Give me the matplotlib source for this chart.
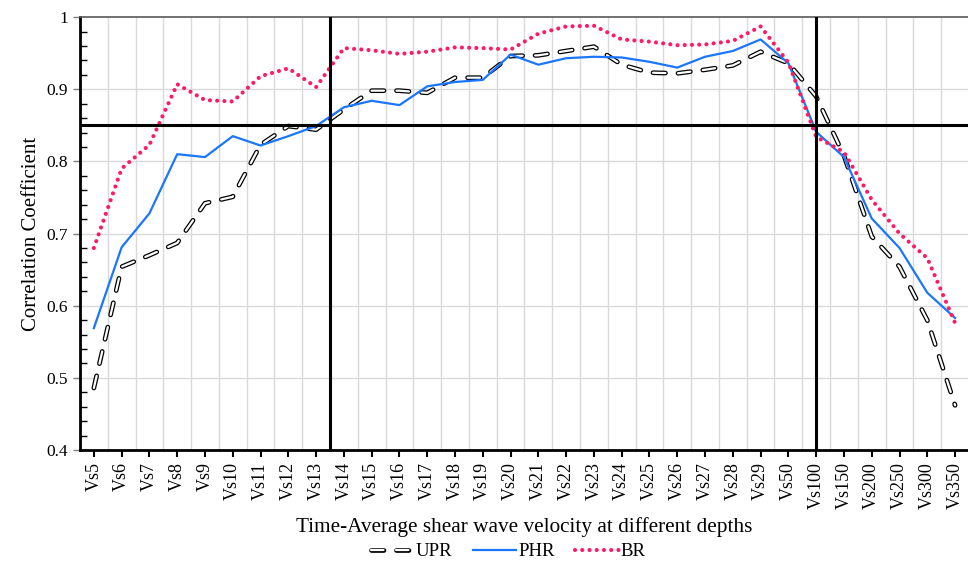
import numpy as np
import matplotlib
matplotlib.use("Agg")
import matplotlib.pyplot as plt
from matplotlib.ticker import MultipleLocator, FixedLocator

plt.rcParams['font.family'] = ['Liberation Serif', 'DejaVu Serif']
plt.rcParams['lines.scale_dashes'] = False

# depths
labels = ['Vs%d' % d for d in range(5, 30)] + ['Vs50', 'Vs100', 'Vs150', 'Vs200', 'Vs250', 'Vs300', 'Vs350']

upr = [0.486, 0.654, 0.670, 0.687, 0.742, 0.751, 0.823, 0.849, 0.844, 0.872, 0.898, 0.898,
       0.895, 0.916, 0.916, 0.946, 0.947, 0.953, 0.959, 0.934, 0.923, 0.922, 0.927, 0.933,
       0.952, 0.936, 0.890, 0.808, 0.696, 0.654, 0.580, 0.462]
phr = [0.569, 0.681, 0.728, 0.810, 0.806, 0.835, 0.822, 0.835, 0.849, 0.875, 0.884, 0.878,
       0.904, 0.910, 0.913, 0.948, 0.934, 0.943, 0.945, 0.944, 0.938, 0.930, 0.945, 0.953,
       0.969, 0.936, 0.841, 0.806, 0.721, 0.680, 0.618, 0.583]
br = [0.680, 0.790, 0.823, 0.907, 0.885, 0.883, 0.918, 0.929, 0.903, 0.957, 0.954, 0.949,
      0.952, 0.958, 0.957, 0.955, 0.977, 0.987, 0.988, 0.969, 0.966, 0.961, 0.962, 0.967,
      0.987, 0.937, 0.834, 0.813, 0.747, 0.700, 0.666, 0.576]

threshold = 0.85
split_a = 8.5          # between Vs13 and Vs14
split_b = labels.index('Vs100')

x = np.arange(len(labels))

fig = plt.figure(figsize=(9.68, 5.69), dpi=100)
ax = fig.add_axes([0.0826, 0.209, 0.9184, 0.761])

# grid
for b in np.arange(-0.5, len(labels) + 0.5, 1.0):
    ax.axvline(b, color='#d9d9d9', lw=1, zorder=0)
for v in np.arange(0.5, 1.0, 0.1):
    ax.axhline(v, color='#d9d9d9', lw=1, zorder=0)

# UPR: outlined dashes
l_out, = ax.plot(x, upr, color='black', lw=3.4, dashes=(9, 9), dash_capstyle='round', zorder=3)
l_in, = ax.plot(x, upr, color='white', lw=1.6, dashes=(9, 9), dash_capstyle='round', zorder=3)
l_phr, = ax.plot(x, phr, color='#1a75ff', lw=1.6, zorder=4)
l_br, = ax.plot(x, br, color='#ff1a66', lw=3.0, dashes=(0.01, 5.2), dash_capstyle='round', zorder=5)

ax.axhline(threshold, color='black', lw=2.2, zorder=6)
ax.axvline(split_a, color='black', lw=2.2, zorder=6)
ax.axvline(split_b, color='black', lw=2.2, zorder=6)

ax.set_xlim(-0.5, len(labels) - 0.5)
ax.set_ylim(0.4, 1.0)
ax.set_xticks(x)
ax.set_xticklabels(labels, rotation=90, fontsize=13)
ax.yaxis.set_major_locator(FixedLocator([0.4, 0.5, 0.6, 0.7, 0.8, 0.9, 1.0]))
ax.set_yticklabels(['0.4', '0.5', '0.6', '0.7', '0.8', '0.9', '1'], fontsize=12.5)
ax.yaxis.set_minor_locator(MultipleLocator(0.02))
ax.tick_params(axis='y', which='major', direction='out', length=5, width=1, color='#7f7f7f')
ax.tick_params(axis='y', which='minor', direction='in', length=5, width=1)
ax.tick_params(axis='x', which='major', direction='out', length=5, width=1.5)

for s in ['left', 'bottom']:
    ax.spines[s].set_linewidth(2)
ax.spines['top'].set_color('#595959')
ax.spines['top'].set_linewidth(1.2)
ax.spines['right'].set_visible(False)

ax.set_ylabel('Correlation Coefficient', fontsize=15)
ax.set_xlabel('Time-Average shear wave velocity at different depths', fontsize=15.3, labelpad=6)

fig.legend([(l_out, l_in), l_phr, l_br], ['UPR', 'PHR', 'BR'], loc='center', bbox_to_anchor=(0.525, 0.03),
           ncol=3, frameon=False, fontsize=13.5, handlelength=2.3, handletextpad=0.1, columnspacing=1.1)

fig.savefig('out.png', dpi=100)
